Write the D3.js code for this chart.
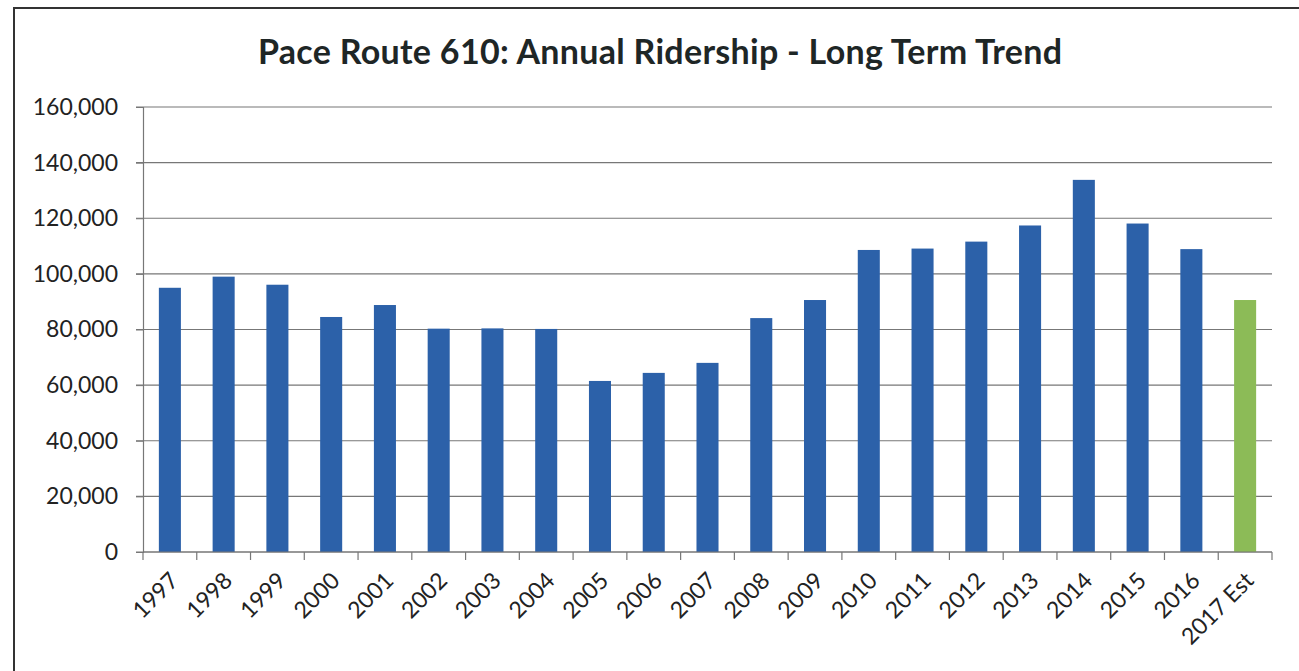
<!DOCTYPE html>
<html>
<head>
<meta charset="utf-8">
<script src="https://cdn.jsdelivr.net/npm/d3@7"></script>
<style>
  body { margin: 0; background: #fff; }
  svg { display: block; }
</style>
</head>
<body>
<svg width="1299" height="671"></svg>
<script>
const years = ["1997", "1998", "1999", "2000", "2001", "2002", "2003", "2004", "2005", "2006",
    "2007", "2008", "2009", "2010", "2011", "2012", "2013", "2014", "2015", "2016", "2017 Est"];
const riders = [95000, 99000, 96100, 84500, 88800, 80300, 80400, 80200, 61500, 64400,
    68000, 84100, 90600, 108600, 109100, 111600, 117400, 133800, 118100, 108900, 90600];
const estimated = ["2017 Est"];
const yTicks = [0, 20000, 40000, 60000, 80000, 100000, 120000, 140000, 160000];

const svg = d3.select("svg");
const width = +svg.attr("width");
const height = +svg.attr("height");
const plotLeft = 143, plotRight = 1272, plotTop = 107, plotBottom = 552;

// outer frame (only top and left edges are visible in the scan)
svg.append("path")
    .attr("d", `M14,${height}V8H${width}`)
    .attr("fill", "none")
    .attr("stroke", "#333")
    .attr("stroke-width", 2);

svg.append("text")
    .attr("x", 660)
    .attr("y", 64)
    .attr("text-anchor", "middle")
    .attr("font-family", "Lato, 'Open Sans', sans-serif")
    .attr("font-weight", "bold")
    .attr("font-size", 34)
    .attr("textLength", 804)
    .attr("fill", "#1e2626")
    .text("Pace Route 610: Annual Ridership - Long Term Trend");

const x = d3.scaleBand().domain(years).range([plotLeft, plotRight]).paddingInner(0.59).paddingOuter(0.295);
const y = d3.scaleLinear().domain([0, 160000]).range([plotBottom, plotTop]);

// gridlines
svg.append("g")
    .selectAll("line")
    .data(yTicks)
    .enter()
    .append("line")
    .attr("x1", plotLeft - 7)
    .attr("x2", plotRight)
    .attr("y1", d => y(d))
    .attr("y2", d => y(d))
    .attr("stroke", "#777")
    .attr("stroke-width", 1.2);

// y axis
const yAxis = svg.append("g")
    .attr("transform", `translate(${plotLeft},0)`)
    .call(d3.axisLeft(y).tickValues(yTicks).tickFormat(d3.format(",")).tickSize(7).tickPadding(18));
yAxis.select(".domain").attr("stroke", "#777").attr("stroke-width", 1.2);
yAxis.selectAll(".tick line").attr("stroke", "#777");
yAxis.selectAll("text")
    .attr("font-family", "Lato, 'Open Sans', sans-serif")
    .attr("font-size", 23)
    .attr("fill", "#222");

// bars
svg.append("g")
    .selectAll("rect")
    .data(years)
    .enter()
    .append("rect")
    .attr("x", d => x(d))
    .attr("width", x.bandwidth())
    .attr("y", (d, i) => y(riders[i]))
    .attr("height", (d, i) => y(0) - y(riders[i]))
    .attr("fill", d => estimated.includes(d) ? "#8cbb57" : "#2c61a9");

// x axis with ticks between categories
const xAxis = svg.append("g").attr("transform", `translate(0,${plotBottom})`);
const step = (plotRight - plotLeft) / years.length;
xAxis.append("line")
    .attr("x1", plotLeft)
    .attr("x2", plotRight)
    .attr("stroke", "#777")
    .attr("stroke-width", 1.2);
xAxis.selectAll(".sep")
    .data(d3.range(years.length + 1))
    .enter()
    .append("line")
    .attr("class", "sep")
    .attr("x1", i => plotLeft + i * step)
    .attr("x2", i => plotLeft + i * step)
    .attr("y1", 0)
    .attr("y2", 8)
    .attr("stroke", "#777")
    .attr("stroke-width", 1.2);
xAxis.selectAll(".lab")
    .data(years)
    .enter()
    .append("text")
    .attr("class", "lab")
    .attr("transform", d => `translate(${x(d) + x.bandwidth() / 2 + 10},${30}) rotate(-45)`)
    .attr("text-anchor", "end")
    .attr("font-family", "Lato, 'Open Sans', sans-serif")
    .attr("font-size", 23)
    .attr("fill", "#222")
    .text(d => d);
</script>
</body>
</html>
